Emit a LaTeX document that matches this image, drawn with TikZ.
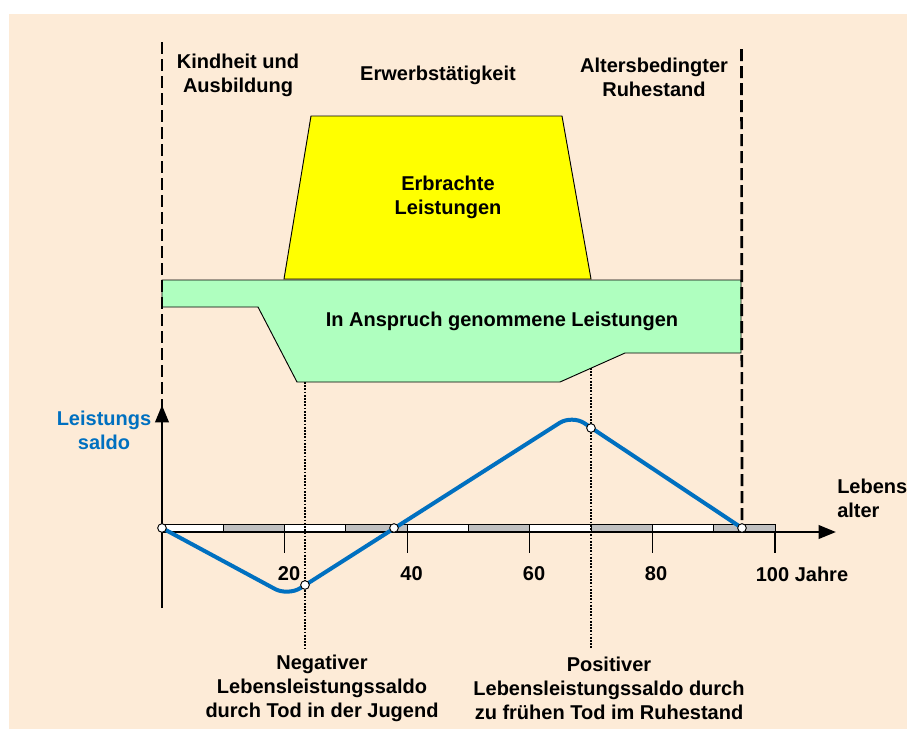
\documentclass[tikz,border=0pt]{standalone}
\usepackage{fontspec}
\setmainfont{Liberation Sans}
\usetikzlibrary{arrows.meta}
\definecolor{Canvas}{HTML}{FDEBD7}
\definecolor{EarnFill}{HTML}{FFFF00}
\definecolor{UseFill}{HTML}{AFFFBF}
\definecolor{SaldoBlue}{HTML}{0070C0}
\definecolor{BarGray}{HTML}{C0C0C0}

\begin{document}
\begin{tikzpicture}[x=0.75pt, y=-0.75pt,
    phasetext/.style={font=\fontsize{15pt}{18pt}\selectfont\bfseries, align=center, inner sep=0pt},
    bluetext/.style={phasetext, text=SaldoBlue},
    phaseline/.style={draw=black, line width=2pt, dash pattern=on 9pt off 3.75pt},
    deathline/.style={draw=black, line width=1.3pt, dash pattern=on 1.3pt off 1.1pt},
    axisline/.style={draw=black, line width=2pt, -{Triangle[length=13pt, width=10pt]}},
    tickline/.style={draw=black, line width=0.8pt},
    whiteseg/.style={draw=black, fill=white, line width=0.7pt},
    grayseg/.style={draw=black, fill=BarGray, line width=0.7pt},
    earnarea/.style={draw=black, fill=EarnFill, line width=0.7pt},
    usearea/.style={draw=black, fill=UseFill, line width=0.7pt},
    saldocurve/.style={draw=SaldoBlue, line width=3pt, line cap=round, rounded corners=11pt},
    markdot/.style={circle, draw=black, fill=white, line width=0.7pt, inner sep=0pt, minimum size=6.5pt}
]

\useasboundingbox (0,0) rectangle (907,729);
\fill[white] (0,0) rectangle (907,729);
\fill[Canvas] (9,14) rectangle (907,729);

% phases
\node[phasetext] (childhood) at (238,75) {Kindheit und\\Ausbildung};
\node[phasetext] (working) at (438,75) {Erwerbstätigkeit};
\node[phasetext] (retirement) at (654,77) {Altersbedingter\\Ruhestand};

\draw[earnarea] (284,279) -- (311,116) -- (562,116) -- (591,279) -- cycle;
\node[phasetext] (earned) at (448,197) {Erbrachte\\Leistungen};

\draw[usearea] (162,280) -- (741,280) -- (741,353) -- (625,353) -- (560,382)
      -- (297,382) -- (258,307) -- (162,307) -- cycle;
\node[phasetext] (used) at (502,321) {In Anspruch genommene Leistungen};

% points on the curve
\coordinate (birthpt) at (162,528);
\coordinate (youngpt) at (305,585);
\coordinate (evenpt) at (394,528);
\coordinate (oldpt) at (591,428);
\coordinate (deathpt) at (742,528);
\coordinate (youngmin) at (288,596);
\coordinate (oldmax) at (572,415);

\coordinate (childtop) at (162,42);
\coordinate (retiretop) at (741.5,49);
\draw[phaseline] (childtop) -- (birthpt);
\draw[phaseline] (retiretop) -- (deathpt);

% age bar
\draw[whiteseg] (162,524) rectangle (223.3,532);
\draw[grayseg] (223.3,524) rectangle (284.6,532);
\draw[whiteseg] (284.6,524) rectangle (345.9,532);
\draw[grayseg] (345.9,524) rectangle (407.2,532);
\draw[whiteseg] (407.2,524) rectangle (468.5,532);
\draw[grayseg] (468.5,524) rectangle (529.8,532);
\draw[whiteseg] (529.8,524) rectangle (591.1,532);
\draw[grayseg] (591.1,524) rectangle (652.4,532);
\draw[whiteseg] (652.4,524) rectangle (713.7,532);
\draw[grayseg] (713.7,524) rectangle (775,532);

\draw[tickline] (284.6,532) -- (284.6,553);
\draw[tickline] (407.2,532) -- (407.2,553);
\draw[tickline] (529.8,532) -- (529.8,553);
\draw[tickline] (652.4,532) -- (652.4,553);
\draw[tickline] (775,532) -- (775,553);

\node[phasetext] (age20) at (289,574) {20};
\node[phasetext] (age40) at (411.5,574) {40};
\node[phasetext] (age60) at (534,574) {60};
\node[phasetext] (age80) at (656,574) {80};
\node[phasetext] (age100) at (802,574) {100 Jahre};

% axes
\coordinate (origin) at (162,532);
\coordinate (xend) at (836,532);
\coordinate (ybottom) at (162,608);
\coordinate (ytop) at (162,405);
\draw[axisline] (origin) -- (xend);
\draw[axisline] (ybottom) -- (ytop);

\node[bluetext] (saldo) at (104,430) {Leistungs\\saldo};
\node[phasetext, anchor=west, align=left] (agename) at (837,498) {Lebens\\alter};

% deaths
\coordinate (youngtop) at (305,382);
\coordinate (youngbot) at (305,648);
\coordinate (oldtop) at (591,368);
\coordinate (oldbot) at (591,648);
\draw[deathline] (youngtop) -- (youngbot);
\draw[deathline] (oldtop) -- (oldbot);

\draw[saldocurve] (birthpt) -- (youngmin) -- (oldmax) -- (deathpt);

\node[markdot] (birth) at (birthpt) {};
\node[markdot] (young) at (youngpt) {};
\node[markdot] (even) at (evenpt) {};
\node[markdot] (old) at (oldpt) {};
\node[markdot] (death) at (deathpt) {};

\node[phasetext] (youngnote) at (322,688) {Negativer\\Lebensleistungssaldo\\durch Tod in der Jugend};
\node[phasetext] (oldnote) at (609,688) {Positiver\\Lebensleistungssaldo durch\\zu frühen Tod im Ruhestand};

\end{tikzpicture}
\end{document}
